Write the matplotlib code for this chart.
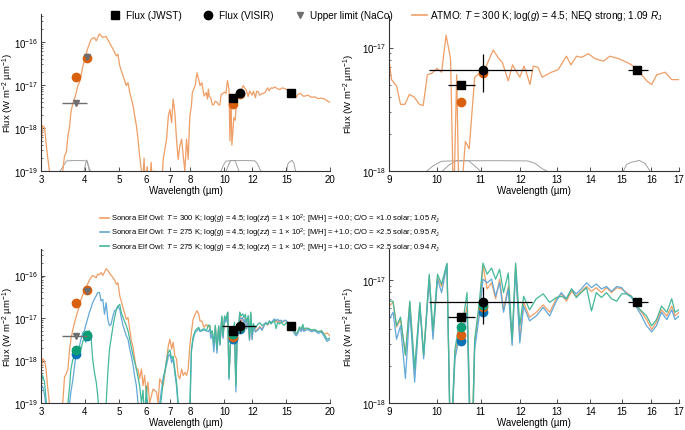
import numpy as np
import matplotlib
matplotlib.use('Agg')
import matplotlib.pyplot as plt
from matplotlib.lines import Line2D
from matplotlib import font_manager
from matplotlib.ticker import NullLocator, NullFormatter, FixedLocator

plt.rcParams['font.family'] = ['Liberation Sans', 'DejaVu Sans']
plt.rcParams['font.size'] = 7
plt.rcParams['mathtext.fontset'] = 'custom'
plt.rcParams['mathtext.rm'] = 'Liberation Sans'
plt.rcParams['mathtext.it'] = 'Liberation Sans:italic'
plt.rcParams['mathtext.bf'] = 'Liberation Sans:bold'

# ---------------- model spectra (log10 flux, W m-2 um-1) ----------------
# ATMO, T=300 K
atmo_wl = [3.00, 3.03, 3.07, 3.10, 3.13, 3.17, 3.20, 3.30, 3.40, 3.46,
           3.50, 3.54, 3.58, 3.62, 3.65, 3.70, 3.76, 3.82, 3.86, 3.90,
           3.95, 3.99, 4.02, 4.07, 4.12, 4.17, 4.26, 4.31, 4.40, 4.50,
           4.60, 4.70, 4.81, 4.92, 4.97, 5.03, 5.14, 5.25, 5.31, 5.37,
           5.43, 5.49, 5.55, 5.61, 5.67, 5.73, 5.80, 5.85, 5.90, 5.95,
           6.02, 6.10, 6.18, 6.25, 6.32, 6.40, 6.50, 6.60, 6.69, 6.84,
           6.92, 6.99, 7.07, 7.14, 7.22, 7.30, 7.38, 7.46, 7.55, 7.63,
           7.71, 7.80, 7.88, 7.97, 8.05, 8.10, 8.25, 8.35, 8.45, 8.52,
           8.62, 8.75, 8.88, 8.95,
           9.00, 9.05, 9.15, 9.23, 9.32, 9.41, 9.51, 9.62, 9.70, 9.79,
           9.88, 10.00, 10.10, 10.20, 10.30, 10.37, 10.44, 10.50, 10.64, 10.73,
           10.86, 10.97, 11.08, 11.19, 11.31, 11.43, 11.54, 11.69, 11.80, 11.91,
           11.99, 12.10, 12.17, 12.26, 12.35, 12.48, 12.59, 12.72, 12.85, 13.04,
           13.28, 13.41, 13.58, 13.73, 13.93, 14.14, 14.40, 14.61, 14.89, 15.16,
           15.32, 15.49, 15.66, 15.84, 16.01, 16.19, 16.49, 16.73, 17.00,
           17.3, 17.7, 18.1, 18.5, 18.9, 19.3, 19.7, 20.0]
atmo_logf = [-18.42, -17.95, -17.99, -18.34, -18.65, -19.0, -19.4, -20.0, -20.0, -19.0,
             -18.65, -18.57, -18.19, -17.95, -17.64, -17.41, -17.26, -17.02, -16.95, -16.79,
             -16.56, -16.44, -16.33, -16.17, -16.05, -15.94, -15.90, -15.98, -15.82, -15.90,
             -15.88, -16.02, -16.17, -16.33, -16.29, -16.56, -16.79, -17.02, -16.95, -17.18,
             -17.33, -17.49, -17.72, -17.95, -18.26, -18.65, -19.0, -19.3, -18.7, -19.4,
             -18.9, -19.5, -18.8, -19.4, -19.0, -19.6, -19.2, -19.5, -18.73, -18.26,
             -17.72, -17.57, -17.88, -17.33, -17.64, -18.26, -18.73, -18.42, -18.26, -18.65,
             -19.0, -18.26, -18.73, -17.72, -17.50, -17.18, -17.02, -16.72, -16.88, -17.02,
             -16.95, -17.26, -17.18, -17.33,
             -17.10, -17.26, -17.31, -17.46, -17.46, -17.38, -17.40, -17.46, -17.47, -17.22,
             -17.21, -17.17, -17.20, -16.90, -17.09, -18.30, -17.22, -18.40, -17.76, -17.82,
             -17.24, -17.21, -17.20, -17.11, -17.02, -17.08, -17.12, -17.27, -17.14, -17.20,
             -17.24, -17.15, -17.21, -17.30, -17.15, -17.16, -17.24, -17.22, -17.20, -17.18,
             -17.07, -17.14, -17.07, -17.08, -17.05, -17.09, -17.11, -17.07, -17.09, -17.12,
             -17.14, -17.18, -17.22, -17.27, -17.30, -17.22, -17.20, -17.26, -17.26,
             -17.24, -17.29, -17.28, -17.32, -17.31, -17.33, -17.38, -17.41]

# Sonora Elf Owl grid (3-9 um, 9-17 um, 17-20 um)
elf_wl_a = [3.00, 3.03, 3.07, 3.10, 3.13, 3.17, 3.20, 3.30, 3.40, 3.46,
            3.50, 3.54, 3.58, 3.62, 3.65, 3.70, 3.76, 3.82, 3.86, 3.90,
            3.95, 3.99, 4.02, 4.07, 4.12, 4.17, 4.21, 4.26, 4.31, 4.35,
            4.40, 4.45, 4.50, 4.55, 4.60, 4.65, 4.70, 4.75, 4.81, 4.86,
            4.92, 4.97, 5.03, 5.08, 5.14, 5.25, 5.31, 5.37, 5.43, 5.49,
            5.55, 5.61, 5.67, 5.73, 5.80, 5.86, 5.92, 5.99, 6.05, 6.12,
            6.26, 6.40, 6.47, 6.54, 6.69, 6.84, 6.92, 6.99, 7.07, 7.14,
            7.22, 7.30, 7.38, 7.46, 7.55, 7.63, 7.71, 7.80, 7.88, 7.97,
            8.05, 8.14, 8.25, 8.35, 8.45, 8.52, 8.62, 8.75, 8.88]
elf_wl_b = [9.00, 9.08, 9.15, 9.23, 9.33, 9.42, 9.52, 9.63, 9.71, 9.83,
            9.91, 10.01, 10.10, 10.22, 10.30, 10.40, 10.49, 10.59, 10.68, 10.78,
            10.86, 10.97, 11.06, 11.16, 11.27, 11.37, 11.47, 11.57, 11.69, 11.79,
            11.88, 11.99, 12.09, 12.25, 12.43, 12.62, 12.80, 12.99, 13.13, 13.28,
            13.43, 13.57, 13.72, 13.88, 14.03, 14.18, 14.34, 14.50, 14.66, 14.83,
            14.99, 15.15, 15.32, 15.49, 15.66, 15.83, 16.01, 16.18, 16.36, 16.55,
            16.73, 16.85, 17.00]
elf_wl_c = [17.3, 17.7, 18.1, 18.5, 18.9, 19.3, 19.6, 20.0]

# T=300 K, [M/H]=+0.0
elf300_a = [-18.28, -17.96, -18.00, -18.20, -18.59, -19.00, -19.30, -20.0, -20.0, -19.00,
            -18.39, -18.31, -18.20, -17.73, -17.50, -17.26, -17.03, -16.83, -16.72, -16.56,
            -16.44, -16.37, -16.29, -16.21, -16.11, -16.05, -16.00, -16.02, -16.05, -15.97,
            -15.98, -15.93, -16.00, -15.92, -15.84, -15.88, -15.94, -15.99, -16.05, -16.10,
            -16.21, -16.17, -16.48, -16.60, -16.76, -17.03, -16.99, -17.26, -17.54, -17.69,
            -17.96, -18.20, -18.20, -18.43, -18.20, -18.59, -18.35, -18.82, -18.51, -19.00,
            -18.67, -18.74, -19.00, -18.43, -18.59, -17.96, -17.65, -17.50, -17.73, -17.57,
            -17.89, -17.96, -18.35, -18.43, -18.20, -18.35, -18.28, -18.35, -18.20, -17.65,
            -17.34, -17.03, -16.91, -16.83, -16.91, -17.07, -17.07, -17.22, -17.15]
elf300_b = [-17.21, -17.18, -17.38, -17.32, -17.61, -17.18, -17.75, -17.20, -17.61, -16.97,
            -17.45, -16.98, -17.05, -16.87, -18.40, -17.61, -17.42, -17.37, -17.21, -18.50,
            -17.51, -17.24, -16.88, -17.07, -17.02, -17.15, -16.99, -17.24, -17.05, -17.51,
            -16.88, -17.48, -17.18, -17.30, -17.26, -17.20, -17.26, -17.15, -17.11, -17.17,
            -17.09, -17.13, -17.09, -17.05, -17.09, -17.06, -17.10, -17.06, -17.10, -17.06,
            -17.07, -17.10, -17.13, -17.21, -17.26, -17.32, -17.40, -17.34, -17.24, -17.29,
            -17.21, -17.29, -17.26]
elf300_c = [-17.25, -17.30, -17.28, -17.33, -17.30, -17.38, -17.35, -17.42]

# T=275 K, log(zz)=2, [M/H]=+1.0
elf275_a = [-18.67, -18.60, -18.80, -19.10, -19.50, -20.0, -20.0, -20.0, -20.0, -20.0,
            -20.0, -20.0, -19.60, -19.00, -18.74, -18.43, -17.96, -17.81, -17.65, -17.50,
            -17.34, -17.30, -17.18, -17.03, -16.87, -16.75, -16.64, -16.55, -16.48, -16.40,
            -16.40, -16.60, -16.56, -16.91, -16.64, -17.03, -17.18, -17.15, -16.95, -16.83,
            -16.80, -16.72, -16.80, -16.99, -17.18, -17.42, -17.50, -17.73, -17.90, -18.12,
            -18.39, -18.59, -19.00, -19.30, -19.60, -19.20, -19.70, -18.90, -19.50, -20.0,
            -20.0, -20.0, -19.60, -19.00, -18.40, -18.10, -17.90, -17.85, -18.05, -17.95,
            -18.30, -18.60, -19.10, -19.60, -20.0, -20.0, -20.0, -20.0, -20.0, -19.30,
            -17.80, -17.50, -17.34, -17.30, -17.25, -17.32, -17.30, -17.28, -17.30]
elf275_b = [-17.32, -17.26, -17.48, -17.37, -17.80, -17.24, -17.83, -17.21, -17.64, -16.99,
            -17.48, -16.99, -17.10, -16.87, -18.45, -17.64, -17.48, -17.42, -17.26, -18.74,
            -17.56, -17.29, -16.99, -17.02, -16.99, -17.13, -17.02, -17.26, -17.07, -17.53,
            -16.91, -17.51, -17.21, -17.33, -17.29, -17.22, -17.29, -17.17, -17.10, -17.15,
            -17.07, -17.11, -17.07, -17.02, -17.06, -17.03, -17.07, -17.05, -17.09, -17.05,
            -17.06, -17.11, -17.14, -17.22, -17.29, -17.37, -17.42, -17.37, -17.26, -17.32,
            -17.24, -17.32, -17.29]
elf275_c = [-17.27, -17.32, -17.30, -17.36, -17.33, -17.45, -17.55, -17.50]

# T=275 K, log(zz)=9, [M/H]=+1.0
elf275z9_a = [-18.59, -18.35, -18.51, -18.90, -19.30, -20.0, -20.0, -20.0, -20.0, -20.0,
              -20.0, -19.50, -19.00, -18.60, -18.20, -17.96, -17.95, -17.81, -17.65, -17.73,
              -17.54, -17.50, -17.57, -17.42, -17.30, -17.50, -17.96, -18.28, -18.51, -18.80,
              -19.30, -19.70, -19.60, -19.20, -19.00, -18.30, -17.75, -17.50, -17.20, -17.00,
              -16.80, -16.72, -16.68, -16.87, -16.99, -17.18, -17.30, -17.50, -17.70, -17.89,
              -18.05, -18.20, -18.40, -18.59, -19.00, -18.70, -19.40, -18.60, -19.30, -19.80,
              -20.0, -20.0, -19.40, -19.20, -18.50, -18.00, -17.80, -17.75, -17.95, -17.90,
              -18.20, -18.50, -19.00, -19.50, -20.0, -20.0, -20.0, -20.0, -19.80, -19.00,
              -17.75, -17.45, -17.30, -17.25, -17.22, -17.30, -17.28, -17.25, -17.30]
elf275z9_b = [-17.17, -17.17, -17.37, -17.30, -17.61, -17.17, -17.72, -17.18, -17.61, -16.95,
              -17.41, -16.95, -17.03, -16.86, -18.40, -17.56, -17.37, -17.32, -17.10, -18.60,
              -17.48, -17.18, -16.86, -16.95, -16.90, -16.99, -16.91, -17.10, -16.94, -17.48,
              -16.86, -17.37, -17.13, -17.24, -17.15, -17.11, -17.18, -17.14, -17.13, -17.15,
              -17.07, -17.14, -17.10, -17.06, -17.25, -17.10, -17.14, -17.10, -17.15, -17.17,
              -17.11, -17.11, -17.13, -17.21, -17.25, -17.29, -17.37, -17.32, -17.21, -17.26,
              -17.15, -17.26, -17.24]
elf275z9_c = [-17.24, -17.28, -17.27, -17.32, -17.30, -17.40, -17.50, -17.47]

# ---------------- photometry ----------------
naco_wl = [3.77, 4.05]
naco_lim = [3.7e-18, 4.35e-17]
naco_lo = [3.45, 4.05]
naco_hi = [4.06, 4.05]

jwst_wl = [10.55, 15.5]
jwst_flux = [5.0e-18, 6.6e-18]
jwst_lo = [10.25, 15.2]
jwst_hi = [10.87, 15.89]

visir_wl = [11.06]
visir_flux = [6.6e-18]
visir_lo = [9.82]
visir_hi = [12.31]
visir_flo = [4.37e-18]
visir_fhi = [8.83e-18]

# model-integrated fluxes: NaCo bands and mid-IR bands
phot_wl = [3.77, 4.05, 10.55, 11.06]
atmo_phot = [1.55e-17, 4.3e-17, 3.63e-18, 6.2e-18]
elf300_phot = [2.2e-17, 4.6e-17, 3.6e-18, 6.1e-18]
elf275_phot = [1.4e-18, 3.8e-18, 3.2e-18, 5.5e-18]
elf275z9_phot = [1.8e-18, 3.9e-18, 4.2e-18, 6.3e-18]

# filter transmission curves
filt_lp_wl = [3.40, 3.48, 3.55, 3.70, 3.90, 4.00, 4.05, 4.10, 4.15]
filt_lp_tr = [0.0, 0.5, 0.92, 0.95, 0.95, 0.93, 0.9, 0.4, 0.0]
filt_nb_wl = [3.98, 4.02, 4.05, 4.08, 4.12]
filt_nb_tr = [0.0, 0.7, 1.0, 0.7, 0.0]
filt_visir_wl = [9.78, 9.92, 10.10, 10.5, 11.5, 12.2, 12.4, 12.6, 12.72]
filt_visir_tr = [0.0, 0.5, 0.9, 0.95, 0.95, 0.93, 0.7, 0.2, 0.0]
filt_f1065_wl = [10.12, 10.25, 10.42, 10.72, 10.88, 11.0]
filt_f1065_tr = [0.0, 0.5, 0.95, 0.95, 0.4, 0.0]
filt_f1550_wl = [15.05, 15.15, 15.3, 15.58, 15.78, 15.95]
filt_f1550_tr = [0.0, 0.6, 0.8, 0.97, 0.7, 0.0]

left_xticks = [3, 4, 5, 6, 7, 8, 10, 12, 15, 20]
right_xticks = [9, 10, 11, 12, 13, 14, 15, 16, 17]

# ---------------- styling ----------------
c_atmo = '#EF9E66'
c_or_line = '#EF9E66'
c_bl_line = '#62A8D8'
c_gr_line = '#45B89A'
c_or = '#D9600F'
c_bl = '#0A72B5'
c_gr = '#0E9E75'
c_grey = '#6E6E6E'
c_filt = '#A0A0A0'

elf_wl = elf_wl_a + elf_wl_b + elf_wl_c
elf300 = 10.0 ** np.array(elf300_a + elf300_b + elf300_c)
elf275 = 10.0 ** np.array(elf275_a + elf275_b + elf275_c)
elf275z9 = 10.0 ** np.array(elf275z9_a + elf275z9_b + elf275z9_c)
atmo = 10.0 ** np.array(atmo_logf)

fig = plt.figure(figsize=(6.85, 4.31), dpi=100)
ax_tl = fig.add_axes([0.0599, 0.6009, 0.4219, 0.3643])
ax_tr = fig.add_axes([0.5679, 0.6009, 0.4234, 0.3596])
ax_bl = fig.add_axes([0.0599, 0.0626, 0.4219, 0.3573])
ax_br = fig.add_axes([0.5679, 0.0626, 0.4234, 0.3573])


def style_axis(ax, xticks, xlim, ylim, label_x):
    ax.set_xscale('log')
    ax.set_yscale('log')
    ax.set_xlim(xlim)
    ax.set_ylim(ylim)
    ax.set_xticks(xticks)
    ax.set_xticklabels([str(t) for t in xticks])
    ax.xaxis.set_minor_locator(NullLocator())
    lo, hi = int(np.ceil(np.log10(ylim[0]))), int(np.floor(np.log10(ylim[1])))
    ax.yaxis.set_major_locator(FixedLocator([10.0 ** k for k in range(lo, hi + 1)]))
    minors = [m * 10.0 ** k for k in range(lo - 1, hi + 1) for m in range(2, 10)
              if ylim[0] < m * 10.0 ** k < ylim[1]]
    ax.yaxis.set_minor_locator(FixedLocator(minors))
    ax.yaxis.set_minor_formatter(NullFormatter())
    for s in ['top', 'right']:
        ax.spines[s].set_visible(False)
    for s in ['left', 'bottom']:
        ax.spines[s].set_color('#333333')
        ax.spines[s].set_linewidth(0.8)
    ax.tick_params(which='major', direction='in', length=3, width=0.6,
                   labelsize=7, pad=2, color='#333333')
    ax.tick_params(which='minor', direction='in', length=1.5, width=0.5, color='#333333')
    ax.set_xlabel('Wavelength (µm)', fontsize=7, labelpad=1)
    ax.set_ylabel('Flux (W m$^{-2}$ µm$^{-1}$)', fontsize=6.8)
    ax.yaxis.set_label_coords(label_x, 0.5)


def draw_filters(ax):
    tr = ax.get_xaxis_transform()
    for wl, t in [(filt_lp_wl, filt_lp_tr), (filt_nb_wl, filt_nb_tr),
                  (filt_visir_wl, filt_visir_tr), (filt_f1065_wl, filt_f1065_tr),
                  (filt_f1550_wl, filt_f1550_tr)]:
        ax.plot(wl, np.array(t) * 0.07, transform=tr, color=c_filt, lw=0.7, zorder=1)


def draw_obs(ax, visir_bar, left):
    if left:
        ax.errorbar(naco_wl, naco_lim,
                    xerr=[np.array(naco_wl) - naco_lo, np.array(naco_hi) - naco_wl],
                    fmt='v', color=c_grey, ms=5, elinewidth=1.0, capsize=0, zorder=6)
    if visir_bar:
        ax.errorbar(jwst_wl, jwst_flux,
                    xerr=[np.array(jwst_wl) - jwst_lo, np.array(jwst_hi) - jwst_wl],
                    fmt='none', ecolor='black', elinewidth=0.9, capsize=0, zorder=6)
        ax.errorbar(visir_wl, visir_flux,
                    xerr=[np.array(visir_wl) - visir_lo, np.array(visir_hi) - visir_wl],
                    yerr=[np.array(visir_flux) - visir_flo, np.array(visir_fhi) - visir_flux],
                    fmt='none', ecolor='black', elinewidth=0.9, capsize=0, zorder=6)
    ax.plot(jwst_wl, jwst_flux, 's', color='black', ms=6, zorder=7)
    ax.plot(visir_wl, visir_flux, 'o', color='black', ms=6, zorder=7)


# top-left
ax = ax_tl
draw_filters(ax)
ax.plot(atmo_wl, atmo, color=c_atmo, lw=0.9, zorder=2)
ax.plot(phot_wl, atmo_phot, 'o', color=c_or, ms=6, zorder=5)
draw_obs(ax, visir_bar=False, left=True)
style_axis(ax, left_xticks, (3, 20), (1e-19, 4.4e-16), -0.086)

# top-right
ax = ax_tr
draw_filters(ax)
ax.plot(atmo_wl, atmo, color=c_atmo, lw=0.9, zorder=2)
ax.plot(phot_wl, atmo_phot, 'o', color=c_or, ms=6, zorder=5)
draw_obs(ax, visir_bar=True, left=False)
style_axis(ax, right_xticks, (9, 17), (1e-18, 1.8e-17), -0.11)

# bottom panels
for ax, left in [(ax_bl, True), (ax_br, False)]:
    ax.plot(elf_wl, elf300, color=c_or_line, lw=0.9, zorder=2)
    ax.plot(elf_wl, elf275, color=c_bl_line, lw=0.9, zorder=2)
    ax.plot(elf_wl, elf275z9, color=c_gr_line, lw=0.9, zorder=2)
    ax.plot(phot_wl, elf275_phot, 'o', color=c_bl, ms=6, zorder=4)
    ax.plot(phot_wl, elf300_phot, 'o', color=c_or, ms=6, zorder=4)
    ax.plot(phot_wl, elf275z9_phot, 'o', color=c_gr, ms=6, zorder=4)
    draw_obs(ax, visir_bar=True, left=left)

style_axis(ax_bl, left_xticks, (3, 20), (1e-19, 4.2e-16), -0.086)
style_axis(ax_br, right_xticks, (9, 17), (1e-18, 1.8e-17), -0.11)

# ---------------- legends ----------------
top_handles = [
    Line2D([], [], ls='none', marker='s', color='black', ms=6),
    Line2D([], [], ls='none', marker='o', color='black', ms=6),
    Line2D([], [], ls='none', marker='v', color=c_grey, ms=5),
    Line2D([], [], color=c_atmo, lw=1.2),
]
top_labels = ['Flux (JWST)', 'Flux (VISIR)', 'Upper limit (NaCo)',
              'ATMO: $T$ = 300 K; log($g$) = 4.5; NEQ strong; 1.09 $R_\\mathrm{J}$']
fig.legend(top_handles, top_labels, loc='upper center', bbox_to_anchor=(0.562, 0.99),
           ncol=4, frameon=False, fontsize=7.2, handlelength=1.5, handletextpad=0.3,
           columnspacing=1.9, borderpad=0)

try:
    font_manager.findfont('Liberation Sans Narrow', fallback_to_default=False)
    leg_prop = {'family': 'Liberation Sans Narrow', 'size': 7}
except ValueError:
    leg_prop = {'family': 'Liberation Sans', 'size': 5.5}

elf_labels = [
    'Sonora Elf Owl: $T$ = 300 K; log($g$) = 4.5; log($zz$) = 1 × 10$^{2}$; [M/H] = +0.0; C/O = ×1.0 solar; 1.05 $R_\\mathrm{J}$',
    'Sonora Elf Owl: $T$ = 275 K; log($g$) = 4.5; log($zz$) = 1 × 10$^{2}$; [M/H] = +1.0; C/O = ×2.5 solar; 0.95 $R_\\mathrm{J}$',
    'Sonora Elf Owl: $T$ = 275 K; log($g$) = 4.5; log($zz$) = 1 × 10$^{9}$; [M/H] = +1.0; C/O = ×2.5 solar; 0.94 $R_\\mathrm{J}$',
]
elf_handles = [Line2D([], [], color=c, lw=1.2) for c in [c_or_line, c_bl_line, c_gr_line]]
fig.legend(elf_handles, elf_labels, loc='upper left', bbox_to_anchor=(0.140, 0.515),
           frameon=False, prop=leg_prop, handlelength=1.2, handletextpad=0.3,
           labelspacing=0.12, borderpad=0)

fig.savefig('out.png', dpi=100)
